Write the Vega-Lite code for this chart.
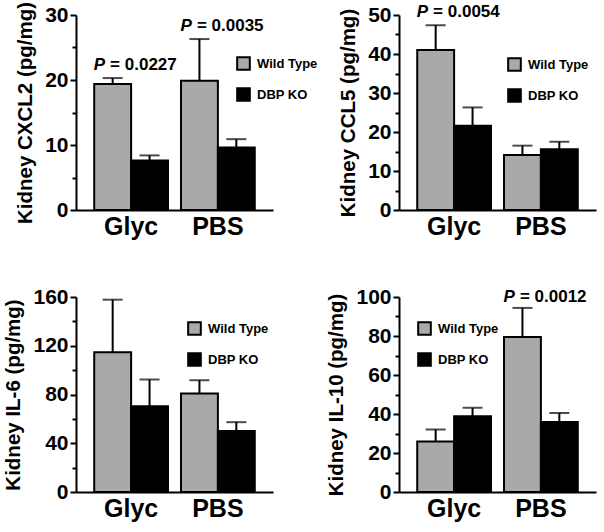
{
  "$schema": "https://vega.github.io/schema/vega-lite/v6.json",
  "padding": {"left": 3, "top": 1, "right": 2, "bottom": 2},
  "config": {
    "view": {"stroke": null},
    "font": "Liberation Sans",
    "axis": {"domainColor": "black", "domainWidth": 2, "tickColor": "black", "tickWidth": 2, "labelColor": "black", "labelFont": "Liberation Sans", "labelFontWeight": "bold", "titleFont": "Liberation Sans", "titleFontWeight": "bold", "titleColor": "black", "grid": false},
    "axisY": {"labelFontSize": 21, "tickSize": 6, "labelPadding": 2, "titleFontSize": 20.5, "titlePadding": 9},
    "axisX": {"labelFontSize": 25, "ticks": false, "labelPadding": 4, "title": null, "labelAngle": 0},
    "legend": {"title": null, "symbolType": "square", "symbolSize": 160, "symbolStrokeColor": "black", "symbolStrokeWidth": 2, "labelFontSize": 13, "labelFontWeight": "bold", "labelColor": "black", "labelFont": "Liberation Sans", "labelOffset": 6, "rowPadding": 10, "padding": 0, "orient": "none"},
    "text": {"font": "Liberation Sans", "fontSize": 17, "fontWeight": "bold", "baseline": "alphabetic", "color": "black"}
  },
  "datasets": {
    "cxcl2": [
      {"group": "Glyc", "genotype": "Wild Type", "mean": 19.4, "upper": 20.3},
      {"group": "Glyc", "genotype": "DBP KO", "mean": 7.6, "upper": 8.4},
      {"group": "PBS", "genotype": "Wild Type", "mean": 19.9, "upper": 26.3},
      {"group": "PBS", "genotype": "DBP KO", "mean": 9.6, "upper": 10.9}
    ],
    "ccl5": [
      {"group": "Glyc", "genotype": "Wild Type", "mean": 41.0, "upper": 47.4},
      {"group": "Glyc", "genotype": "DBP KO", "mean": 21.6, "upper": 26.3},
      {"group": "PBS", "genotype": "Wild Type", "mean": 14.1, "upper": 16.5},
      {"group": "PBS", "genotype": "DBP KO", "mean": 15.6, "upper": 17.5}
    ],
    "il6": [
      {"group": "Glyc", "genotype": "Wild Type", "mean": 114.7, "upper": 157.8},
      {"group": "Glyc", "genotype": "DBP KO", "mean": 70.4, "upper": 92.3},
      {"group": "PBS", "genotype": "Wild Type", "mean": 80.8, "upper": 91.7},
      {"group": "PBS", "genotype": "DBP KO", "mean": 50.0, "upper": 57.3}
    ],
    "il10": [
      {"group": "Glyc", "genotype": "Wild Type", "mean": 25.9, "upper": 32.1},
      {"group": "Glyc", "genotype": "DBP KO", "mean": 38.8, "upper": 43.2},
      {"group": "PBS", "genotype": "Wild Type", "mean": 79.5, "upper": 94.4},
      {"group": "PBS", "genotype": "DBP KO", "mean": 35.9, "upper": 40.5}
    ],
    "p_cxcl2": [
      {"group": "Glyc", "y": 21.5, "pre": "P", "label": "= 0.0227"},
      {"group": "PBS", "y": 27.5, "pre": "P", "label": "= 0.0035"}
    ],
    "p_ccl5": [
      {"group": "Glyc", "y": 49.6, "pre": "P", "label": "= 0.0054"}
    ],
    "p_il10": [
      {"group": "PBS", "y": 97.4, "pre": "P", "label": "= 0.0012"}
    ]
  },
  "columns": 2,
  "spacing": {"column": 8, "row": 47},
  "resolve": {"scale": {"color": "independent"}, "legend": {"color": "independent"}},
  "concat": [
    {
      "width": 197, "height": 195,
      "data": {"name": "cxcl2"},
      "resolve": {"axis": {"y": "independent"}},
      "layer": [
        {
          "mark": {"type": "bar", "stroke": "black", "strokeWidth": 2},
          "encoding": {
            "x": {"field": "group", "type": "nominal", "scale": {"domain": ["Glyc", "PBS"], "paddingInner": 0.15, "paddingOuter": 0.21}, "axis": {"orient": "bottom"}},
            "xOffset": {"field": "genotype", "type": "nominal", "scale": {"domain": ["Wild Type", "DBP KO"], "paddingInner": 0, "paddingOuter": 0}},
            "y": {"field": "mean", "type": "quantitative", "scale": {"domain": [0, 30], "nice": false}, "axis": {"values": [0, 10, 20, 30], "title": "Kidney CXCL2 (pg/mg)", "orient": "left"}},
            "color": {"field": "genotype", "type": "nominal", "scale": {"domain": ["Wild Type", "DBP KO"], "range": ["#a9a9a9", "#000000"]}, "legend": {"legendX": 160, "legendY": 41}}
          }
        },
        {
          "mark": {"type": "rule", "color": "black", "strokeWidth": 2},
          "encoding": {
            "x": {"field": "group", "type": "nominal"},
            "xOffset": {"field": "genotype", "type": "nominal"},
            "y": {"field": "mean", "type": "quantitative", "axis": {"values": [5, 15, 25], "labels": false, "domain": false, "tickSize": 4, "title": null, "orient": "left"}},
            "y2": {"field": "upper"}
          }
        },
        {
          "mark": {"type": "tick", "color": "black", "size": 20, "thickness": 2, "orient": "horizontal"},
          "encoding": {
            "x": {"field": "group", "type": "nominal"},
            "xOffset": {"field": "genotype", "type": "nominal"},
            "y": {"field": "upper", "type": "quantitative", "axis": null}
          }
        },
        {
          "data": {"name": "p_cxcl2"},
          "mark": {"type": "text", "fontStyle": "italic", "align": "right", "dx": -26},
          "encoding": {
            "x": {"field": "group", "type": "nominal"},
            "y": {"field": "y", "type": "quantitative", "axis": null},
            "text": {"field": "pre"}
          }
        },
        {
          "data": {"name": "p_cxcl2"},
          "mark": {"type": "text", "align": "left", "dx": -21},
          "encoding": {
            "x": {"field": "group", "type": "nominal"},
            "y": {"field": "y", "type": "quantitative", "axis": null},
            "text": {"field": "label"}
          }
        }
      ]
    },
    {
      "width": 197, "height": 195,
      "data": {"name": "ccl5"},
      "resolve": {"axis": {"y": "independent"}},
      "layer": [
        {
          "mark": {"type": "bar", "stroke": "black", "strokeWidth": 2},
          "encoding": {
            "x": {"field": "group", "type": "nominal", "scale": {"domain": ["Glyc", "PBS"], "paddingInner": 0.15, "paddingOuter": 0.21}, "axis": {"orient": "bottom"}},
            "xOffset": {"field": "genotype", "type": "nominal", "scale": {"domain": ["Wild Type", "DBP KO"], "paddingInner": 0, "paddingOuter": 0}},
            "y": {"field": "mean", "type": "quantitative", "scale": {"domain": [0, 50], "nice": false}, "axis": {"values": [0, 10, 20, 30, 40, 50], "title": "Kidney CCL5 (pg/mg)", "orient": "left"}},
            "color": {"field": "genotype", "type": "nominal", "scale": {"domain": ["Wild Type", "DBP KO"], "range": ["#a9a9a9", "#000000"]}, "legend": {"legendX": 108, "legendY": 42}}
          }
        },
        {
          "mark": {"type": "rule", "color": "black", "strokeWidth": 2},
          "encoding": {
            "x": {"field": "group", "type": "nominal"},
            "xOffset": {"field": "genotype", "type": "nominal"},
            "y": {"field": "mean", "type": "quantitative", "axis": {"values": [5, 15, 25, 35, 45], "labels": false, "domain": false, "tickSize": 4, "title": null, "orient": "left"}},
            "y2": {"field": "upper"}
          }
        },
        {
          "mark": {"type": "tick", "color": "black", "size": 20, "thickness": 2, "orient": "horizontal"},
          "encoding": {
            "x": {"field": "group", "type": "nominal"},
            "xOffset": {"field": "genotype", "type": "nominal"},
            "y": {"field": "upper", "type": "quantitative", "axis": null}
          }
        },
        {
          "data": {"name": "p_ccl5"},
          "mark": {"type": "text", "fontStyle": "italic", "align": "right", "dx": -26},
          "encoding": {
            "x": {"field": "group", "type": "nominal"},
            "y": {"field": "y", "type": "quantitative", "axis": null},
            "text": {"field": "pre"}
          }
        },
        {
          "data": {"name": "p_ccl5"},
          "mark": {"type": "text", "align": "left", "dx": -21},
          "encoding": {
            "x": {"field": "group", "type": "nominal"},
            "y": {"field": "y", "type": "quantitative", "axis": null},
            "text": {"field": "label"}
          }
        }
      ]
    },
    {
      "width": 197, "height": 195,
      "data": {"name": "il6"},
      "resolve": {"axis": {"y": "independent"}},
      "layer": [
        {
          "mark": {"type": "bar", "stroke": "black", "strokeWidth": 2},
          "encoding": {
            "x": {"field": "group", "type": "nominal", "scale": {"domain": ["Glyc", "PBS"], "paddingInner": 0.15, "paddingOuter": 0.21}, "axis": {"orient": "bottom"}},
            "xOffset": {"field": "genotype", "type": "nominal", "scale": {"domain": ["Wild Type", "DBP KO"], "paddingInner": 0, "paddingOuter": 0}},
            "y": {"field": "mean", "type": "quantitative", "scale": {"domain": [0, 160], "nice": false}, "axis": {"values": [0, 40, 80, 120, 160], "title": "Kidney IL-6 (pg/mg)", "orient": "left"}},
            "color": {"field": "genotype", "type": "nominal", "scale": {"domain": ["Wild Type", "DBP KO"], "range": ["#a9a9a9", "#000000"]}, "legend": {"legendX": 111, "legendY": 24}}
          }
        },
        {
          "mark": {"type": "rule", "color": "black", "strokeWidth": 2},
          "encoding": {
            "x": {"field": "group", "type": "nominal"},
            "xOffset": {"field": "genotype", "type": "nominal"},
            "y": {"field": "mean", "type": "quantitative", "axis": {"values": [20, 60, 100, 140], "labels": false, "domain": false, "tickSize": 4, "title": null, "orient": "left"}},
            "y2": {"field": "upper"}
          }
        },
        {
          "mark": {"type": "tick", "color": "black", "size": 20, "thickness": 2, "orient": "horizontal"},
          "encoding": {
            "x": {"field": "group", "type": "nominal"},
            "xOffset": {"field": "genotype", "type": "nominal"},
            "y": {"field": "upper", "type": "quantitative", "axis": null}
          }
        }
      ]
    },
    {
      "width": 197, "height": 195,
      "data": {"name": "il10"},
      "resolve": {"axis": {"y": "independent"}},
      "layer": [
        {
          "mark": {"type": "bar", "stroke": "black", "strokeWidth": 2},
          "encoding": {
            "x": {"field": "group", "type": "nominal", "scale": {"domain": ["Glyc", "PBS"], "paddingInner": 0.15, "paddingOuter": 0.21}, "axis": {"orient": "bottom"}},
            "xOffset": {"field": "genotype", "type": "nominal", "scale": {"domain": ["Wild Type", "DBP KO"], "paddingInner": 0, "paddingOuter": 0}},
            "y": {"field": "mean", "type": "quantitative", "scale": {"domain": [0, 100], "nice": false}, "axis": {"values": [0, 20, 40, 60, 80, 100], "title": "Kidney IL-10 (pg/mg)", "orient": "left"}},
            "color": {"field": "genotype", "type": "nominal", "scale": {"domain": ["Wild Type", "DBP KO"], "range": ["#a9a9a9", "#000000"]}, "legend": {"legendX": 18, "legendY": 24}}
          }
        },
        {
          "mark": {"type": "rule", "color": "black", "strokeWidth": 2},
          "encoding": {
            "x": {"field": "group", "type": "nominal"},
            "xOffset": {"field": "genotype", "type": "nominal"},
            "y": {"field": "mean", "type": "quantitative", "axis": {"values": [10, 30, 50, 70, 90], "labels": false, "domain": false, "tickSize": 4, "title": null, "orient": "left"}},
            "y2": {"field": "upper"}
          }
        },
        {
          "mark": {"type": "tick", "color": "black", "size": 20, "thickness": 2, "orient": "horizontal"},
          "encoding": {
            "x": {"field": "group", "type": "nominal"},
            "xOffset": {"field": "genotype", "type": "nominal"},
            "y": {"field": "upper", "type": "quantitative", "axis": null}
          }
        },
        {
          "data": {"name": "p_il10"},
          "mark": {"type": "text", "fontStyle": "italic", "align": "right", "dx": -26},
          "encoding": {
            "x": {"field": "group", "type": "nominal"},
            "y": {"field": "y", "type": "quantitative", "axis": null},
            "text": {"field": "pre"}
          }
        },
        {
          "data": {"name": "p_il10"},
          "mark": {"type": "text", "align": "left", "dx": -21},
          "encoding": {
            "x": {"field": "group", "type": "nominal"},
            "y": {"field": "y", "type": "quantitative", "axis": null},
            "text": {"field": "label"}
          }
        }
      ]
    }
  ]
}
